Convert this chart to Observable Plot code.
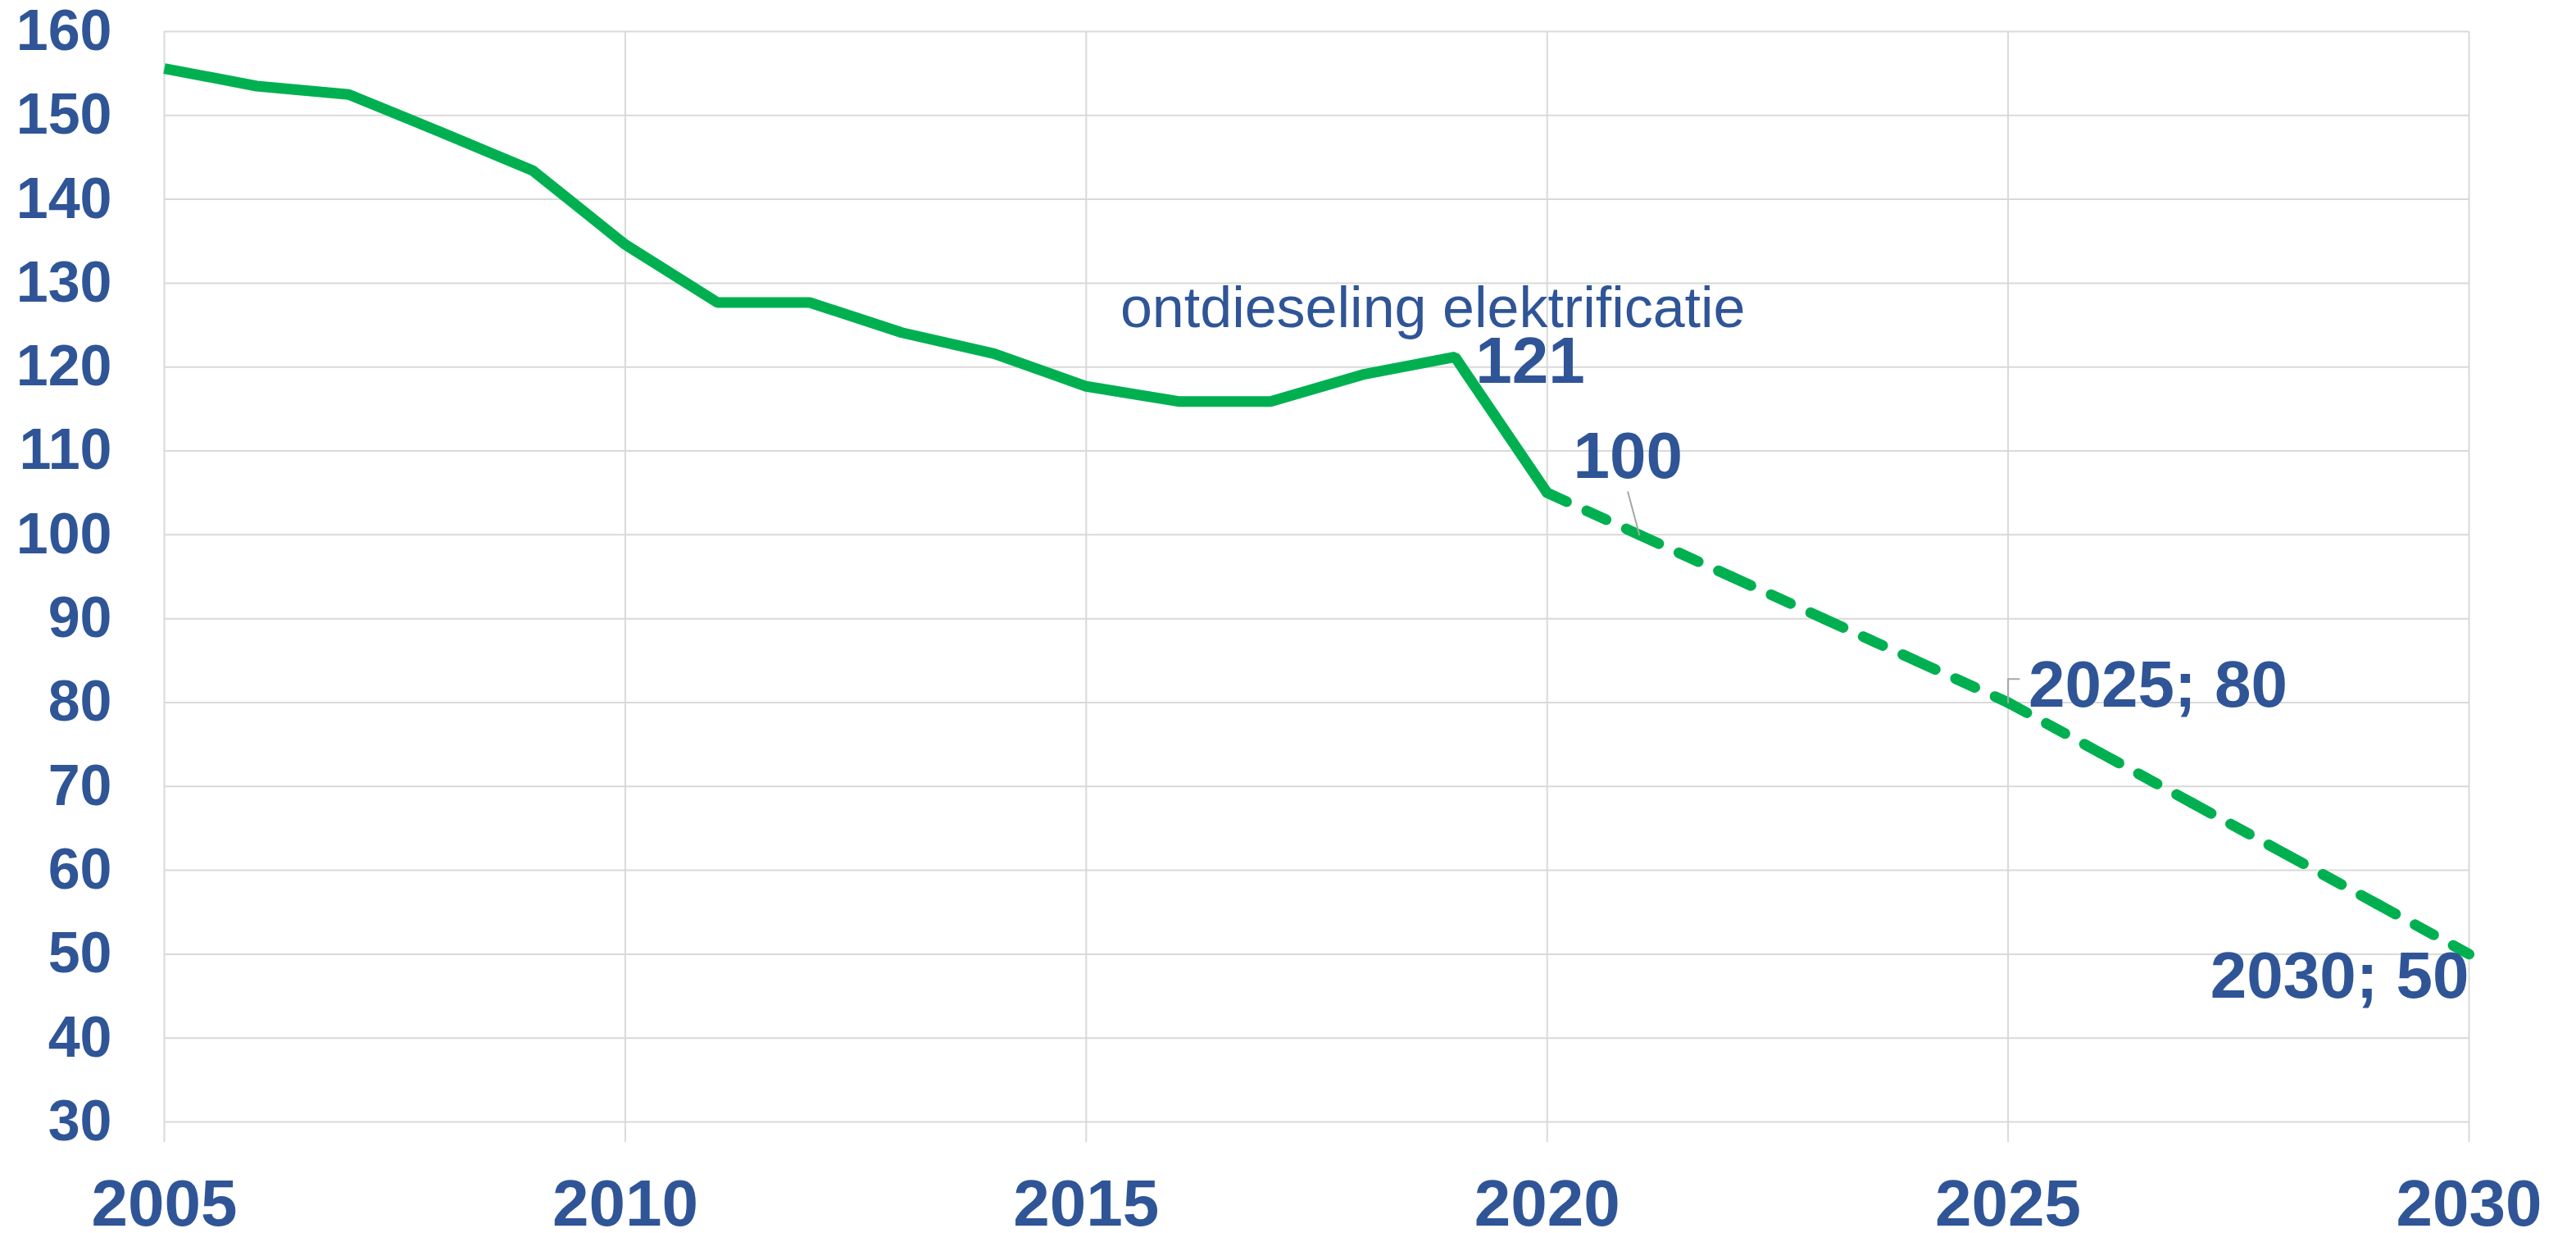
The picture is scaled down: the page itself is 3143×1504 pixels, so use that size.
<!DOCTYPE html>
<html>
<head>
<meta charset="utf-8">
<script src="https://cdn.jsdelivr.net/npm/d3@7"></script>
<script src="https://cdn.jsdelivr.net/npm/@observablehq/plot@0.6"></script>
<style>
  html, body { margin: 0; padding: 0; background: #ffffff; }
</style>
</head>
<body>
<div id="chart"></div>
<script>
// ---- data ----
const years = [2005, 2006, 2007, 2008, 2009, 2010, 2011, 2012, 2013, 2014, 2015, 2016, 2017, 2018, 2019, 2020];
const values = [155.6, 153.5, 152.5, 148.0, 143.4, 134.6, 127.7, 127.7, 124.1, 121.6, 117.7, 115.9, 115.9, 119.1, 121.2, 105.0];

// target path (dashed), one vertex per year as drawn in the reference
const targetYears = [2020, 2021, 2022, 2023, 2024, 2025, 2026, 2027, 2028, 2029, 2030];
const targetValues = [105, 100, 95, 90, 85, 80, 74, 68, 62, 56, 50];

const xTicks = [2005, 2010, 2015, 2020, 2025, 2030];
const yTicks = [30, 40, 50, 60, 70, 80, 90, 100, 110, 120, 130, 140, 150, 160];

// data labels: year, value, text
const labelYears = [2019, 2021, 2025, 2030];
const labelValues = [121.2, 100, 80, 50];
const labelTexts = ["121", "100", "2025; 80", "2030; 50"];

// free annotation text
const noteYear = [2018.76];
const noteValue = [124.8];
const noteText = ["ontdieseling elektrificatie"];

// leader lines for the labels "100" and "2025; 80"
const leader100X = [2020.876, 2021];
const leader100Y = [105.1, 100];
const leader80X = [2025.12, 2025, 2025];
const leader80Y = [82.8, 82.8, 80];

// ---- tables built from the arrays ----
const actual = years.map((y, i) => ({year: y, value: values[i]}));
// each yearly segment is its own path so the dash pattern restarts at every vertex
const targetSegments = [];
for (let i = 0; i < targetYears.length - 1; i++) {
  targetSegments.push({seg: i, year: targetYears[i], value: targetValues[i]});
  targetSegments.push({seg: i, year: targetYears[i + 1], value: targetValues[i + 1]});
}
const labels = labelYears.map((y, i) => ({year: y, value: labelValues[i], text: labelTexts[i]}));
const note = noteYear.map((y, i) => ({year: y, value: noteValue[i], text: noteText[i]}));
const lead100 = leader100X.map((x, i) => ({year: x, value: leader100Y[i]}));
const lead80 = leader80X.map((x, i) => ({year: x, value: leader80Y[i]}));

const BLUE = "#2F5597";
const GREEN = "#00B050";
const GRID = "#D9D9D9";
const FONT = "'Liberation Sans', Arial, sans-serif";

const chart = Plot.plot({
  width: 3143,
  height: 1504,
  marginLeft: 200,
  marginRight: 131,
  marginTop: 38,
  marginBottom: 136,
  style: {fontFamily: FONT, fontWeight: "bold", background: "#ffffff", color: BLUE},
  x: {domain: [2005, 2030]},
  y: {domain: [30, 160]},
  marks: [
    Plot.gridY(yTicks, {stroke: GRID, strokeOpacity: 1, strokeWidth: 2}),
    Plot.gridX(xTicks, {stroke: GRID, strokeOpacity: 1, strokeWidth: 2}),
    Plot.axisY(yTicks, {tickSize: 0, tickPadding: 64, fontSize: 70, fill: BLUE, tickFormat: d => String(d), label: null}),
    Plot.axisX(xTicks, {tickSize: 25, tickPadding: 45, fontSize: 80, fill: BLUE, stroke: GRID, strokeWidth: 2, tickFormat: d => String(d), label: null}),
    Plot.line(actual, {x: "year", y: "value", stroke: GREEN, strokeWidth: 13, strokeLinejoin: "miter", strokeLinecap: "butt"}),
    Plot.line(targetSegments, {x: "year", y: "value", z: "seg", stroke: GREEN, strokeWidth: 13, strokeDasharray: "26,27", strokeLinecap: "round"}),
    Plot.line(lead100, {x: "year", y: "value", stroke: "#A6A6A6", strokeWidth: 2}),
    Plot.line(lead80, {x: "year", y: "value", stroke: "#A6A6A6", strokeWidth: 2}),
    Plot.text(labels.filter(d => d.text === "121"), {x: "year", y: "value", text: "text", fill: BLUE, fontSize: 80, fontWeight: "bold", textAnchor: "start", lineAnchor: "middle", dx: 25, dy: 6}),
    Plot.text(labels.filter(d => d.text === "100"), {x: "year", y: "value", text: "text", fill: BLUE, fontSize: 80, fontWeight: "bold", textAnchor: "middle", lineAnchor: "bottom", dx: -14, dy: -69}),
    Plot.text(labels.filter(d => d.text === "2025; 80"), {x: "year", y: "value", text: "text", fill: BLUE, fontSize: 80, fontWeight: "bold", textAnchor: "start", lineAnchor: "bottom", dx: 25, dy: 5}),
    Plot.text(labels.filter(d => d.text === "2030; 50"), {x: "year", y: "value", text: "text", fill: BLUE, fontSize: 80, fontWeight: "bold", textAnchor: "end", lineAnchor: "top", dx: 0, dy: -4}),
    Plot.text(note, {x: "year", y: "value", text: "text", fill: BLUE, fontSize: 70, fontWeight: "normal", textAnchor: "middle", lineAnchor: "bottom"})
  ]
});

document.getElementById("chart").appendChild(chart);
</script>
</body>
</html>
